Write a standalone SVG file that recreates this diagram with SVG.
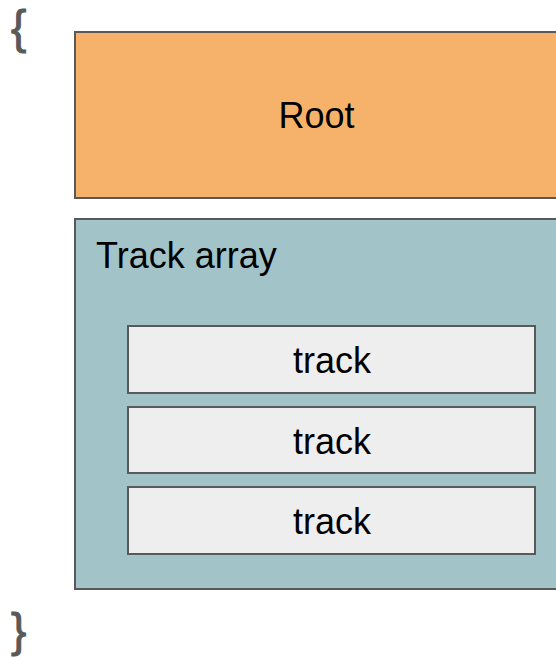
<svg xmlns="http://www.w3.org/2000/svg" width="556" height="657" viewBox="0 0 556 657">
<style>
.box{stroke:#595959;stroke-width:2}
.lbl{font-family:"Liberation Sans",Arial,sans-serif;font-size:36px;fill:#000}
.brace{font-family:"Liberation Sans",Arial,sans-serif;font-size:46px;fill:#595959;stroke:#595959;stroke-width:1}
</style>
<rect width="556" height="657" fill="#fff"/>
<text class="brace" x="11" y="43">{</text>
<text class="brace" x="11" y="646">}</text>
<g id="root">
<rect class="box" x="75" y="32" width="490" height="166" fill="#F6B26B"/>
<text class="lbl" x="316.5" y="128" text-anchor="middle">Root</text>
</g>
<g id="track-array">
<rect class="box" x="75" y="219" width="490" height="370" fill="#A2C4C9"/>
<text class="lbl" x="96" y="268">Track array</text>
</g>
<g id="track1">
<rect class="box" x="128" y="326" width="407" height="67" fill="#EEEEEE"/>
<text class="lbl" x="332" y="373" text-anchor="middle">track</text>
</g>
<g id="track2">
<rect class="box" x="128" y="407" width="407" height="66" fill="#EEEEEE"/>
<text class="lbl" x="332" y="454" text-anchor="middle">track</text>
</g>
<g id="track3">
<rect class="box" x="128" y="487" width="407" height="67" fill="#EEEEEE"/>
<text class="lbl" x="332" y="534" text-anchor="middle">track</text>
</g>
<g id="connectors"/>
</svg>
